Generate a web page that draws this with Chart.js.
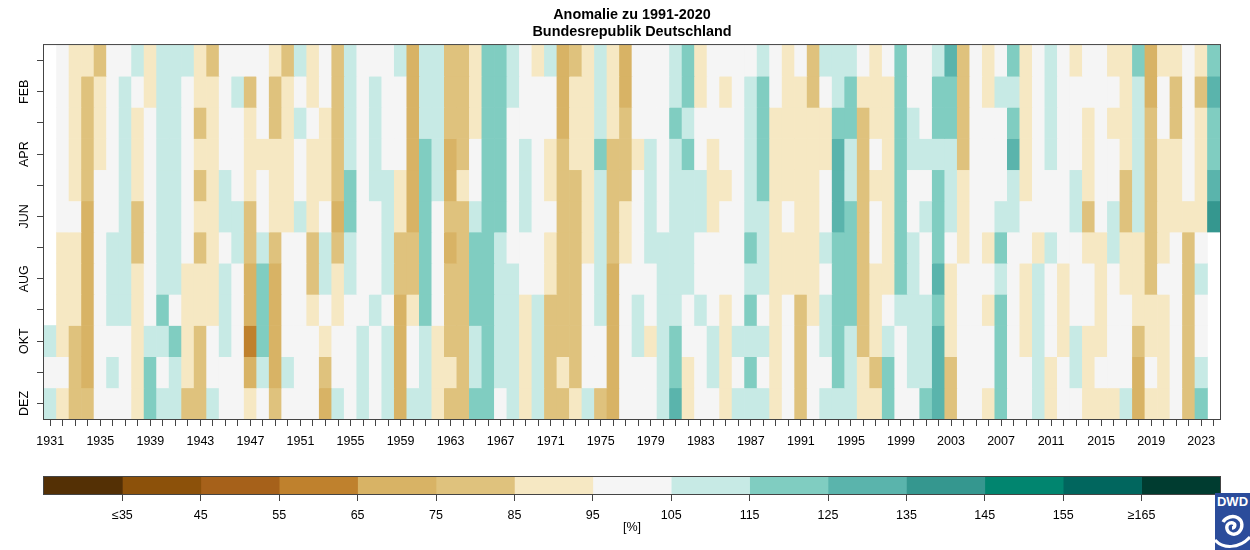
<!DOCTYPE html>
<html>
<head>
<meta charset="utf-8">
<title>Anomalie zu 1991-2020</title>
<script src="https://cdn.jsdelivr.net/npm/chart.js@4"></script>
<style>
  html, body { margin: 0; padding: 0; background: #fff; }
  #page { position: relative; width: 1250px; height: 550px; overflow: hidden; }
  canvas { position: absolute; left: 0; }
  #heat { top: 0; }
  #bar { top: 460px; }
  #logo { position: absolute; left: 1215px; top: 493px; }
</style>
</head>
<body>
<div id="page">
  <canvas id="heat" width="1250" height="460"></canvas>
  <canvas id="bar" width="1250" height="75"></canvas>
  <svg id="logo" width="35" height="57" viewBox="0 0 35 57">
    <rect width="35" height="57" fill="#2b4c9b"/>
    <text x="17.5" y="13" text-anchor="middle" font-family="Liberation Sans" font-weight="bold" font-size="13" fill="#fff">DWD</text>
    <path d="M17 35 C20 35 21 31 18 30 C14 29 11 32 12 36 C13 41 20 43 24 39 C28 35 28 28 23 25 C18 22 11 24 8 29" fill="none" stroke="#fff" stroke-width="3.4"/>
    <path d="M0 47 C8 56 24 56 35 44" fill="none" stroke="#fff" stroke-width="3"/>
  </svg>
</div>
<script>
Chart.defaults.font.family = '"Liberation Sans", Arial, sans-serif';
Chart.defaults.color = '#000';
Chart.defaults.animation = false;

var titleLines = ['Anomalie zu 1991-2020', 'Bundesrepublik Deutschland'];
var monthLabels = ['JAN', 'FEB', 'MRZ', 'APR', 'MAI', 'JUN', 'JUL', 'AUG', 'SEP', 'OKT', 'NOV', 'DEZ'];
var firstYear = 1931;

// class centre in percent, one row per year, Jan..Dez, null = no data yet
var anomaly = [
  [null,null,null,null,null,null,null,null,null,110,100,110],
  [100,100,100,100,100,100,90,90,90,90,100,90],
  [90,90,90,90,90,100,90,90,90,80,80,80],
  [90,80,80,80,80,70,70,70,70,70,70,80],
  [80,90,90,90,100,100,100,100,100,100,100,100],
  [100,100,100,100,100,100,110,110,110,100,110,100],
  [100,110,110,110,110,110,110,110,110,100,100,100],
  [110,100,90,90,90,80,80,90,90,90,90,90],
  [90,90,100,100,100,100,100,100,100,110,120,120],
  [110,110,110,110,110,110,110,110,120,110,100,110],
  [110,110,110,110,110,110,110,110,100,120,110,110],
  [110,100,100,100,100,100,100,90,90,90,90,80],
  [90,90,80,90,80,90,80,90,90,80,80,80],
  [80,90,90,90,90,90,90,90,90,100,100,110],
  [100,100,100,100,110,110,100,110,110,110,100,100],
  [100,110,100,100,100,110,110,100,100,100,100,100],
  [100,80,90,90,90,80,80,70,70,60,70,90],
  [100,100,100,90,100,100,110,120,120,120,110,100],
  [90,80,80,90,90,90,80,70,70,70,70,80],
  [80,90,90,90,90,90,100,100,100,100,110,100],
  [110,100,110,100,100,110,100,100,100,100,100,100],
  [90,90,100,90,90,90,80,80,90,100,100,100],
  [100,100,90,90,90,100,110,110,100,90,80,70],
  [80,80,80,80,80,70,80,90,90,100,100,110],
  [110,110,110,110,120,120,110,110,100,100,100,100],
  [100,100,100,100,100,100,100,100,100,110,110,110],
  [100,110,110,110,110,100,100,100,110,100,100,100],
  [100,100,100,100,110,110,110,110,100,110,110,110],
  [110,100,100,100,90,90,80,80,70,70,70,70],
  [70,70,70,70,70,70,80,80,90,100,100,110],
  [110,110,110,120,120,120,120,120,120,110,110,110],
  [110,110,110,110,110,100,100,100,100,90,90,90],
  [80,80,80,70,70,80,70,80,80,80,90,80],
  [80,80,80,80,90,80,80,80,80,80,80,80],
  [90,90,90,100,100,110,120,120,120,110,110,120],
  [120,120,120,120,120,120,120,120,120,120,120,120],
  [120,120,120,120,120,120,110,110,110,110,110,100],
  [110,110,100,100,100,100,100,110,110,110,110,110],
  [100,100,100,110,110,110,100,100,90,90,90,90],
  [90,100,100,100,100,100,100,100,110,110,110,110],
  [110,100,100,90,90,100,90,90,80,80,80,80],
  [70,70,70,80,80,80,80,80,80,80,90,80],
  [80,90,90,90,80,80,80,80,80,80,80,90],
  [90,90,90,90,90,90,90,100,100,100,100,110],
  [110,110,110,120,110,110,110,110,110,100,100,80],
  [90,90,90,80,80,80,80,70,70,70,70,70],
  [70,70,80,80,80,90,90,100,100,100,100,100],
  [100,100,100,90,100,100,100,100,110,110,100,100],
  [100,100,100,110,110,110,110,100,100,90,100,100],
  [100,100,100,100,100,100,110,110,110,110,110,110],
  [110,110,120,110,110,110,110,110,110,120,120,130],
  [120,120,110,120,110,110,110,110,100,100,90,90],
  [90,90,100,100,110,110,100,100,110,100,100,100],
  [100,100,100,90,90,90,100,100,100,110,110,100],
  [100,90,100,100,90,100,100,100,90,90,90,90],
  [100,100,100,100,100,100,100,100,100,110,100,110],
  [100,110,110,110,110,110,120,110,120,110,120,110],
  [110,120,120,120,120,110,110,110,100,110,100,110],
  [100,100,90,90,90,90,90,90,90,90,90,90],
  [90,90,90,90,90,100,90,90,100,100,100,100],
  [100,90,90,90,90,90,90,90,80,80,80,80],
  [80,80,90,90,90,90,90,90,90,100,100,100],
  [110,100,90,90,100,100,110,100,110,110,100,110],
  [110,110,120,130,130,130,120,120,120,120,120,110],
  [110,120,120,110,110,120,120,120,120,110,110,110],
  [100,90,80,80,80,80,80,80,80,80,90,90],
  [90,90,90,100,90,100,100,90,90,90,80,90],
  [100,90,90,90,90,90,90,90,100,110,120,120],
  [120,120,120,120,120,120,120,120,110,100,100,100],
  [100,100,110,110,100,100,110,110,110,110,110,100],
  [100,100,100,110,100,110,100,100,110,110,110,120],
  [110,120,120,110,120,120,120,130,120,130,130,130],
  [130,120,120,110,110,110,100,90,90,90,80,80],
  [80,80,80,80,90,90,90,100,100,100,100,100],
  [100,100,100,100,100,100,100,100,100,100,100,100],
  [90,90,100,100,100,100,90,100,90,100,100,90],
  [100,110,100,100,100,110,120,110,120,120,120,120],
  [120,110,120,130,110,110,100,100,100,100,100,100],
  [90,90,90,90,90,100,100,90,90,90,100,100],
  [100,100,100,100,100,100,90,110,110,110,110,110],
  [110,110,110,110,100,100,110,100,100,100,90,90],
  [100,100,100,100,100,100,100,90,90,90,100,100],
  [90,100,100,100,110,110,100,100,100,110,110,100],
  [100,100,90,90,90,80,90,100,100,90,90,90],
  [100,100,100,100,100,100,90,90,90,90,100,90],
  [90,100,90,100,100,110,110,100,100,100,100,90],
  [90,90,90,90,80,80,90,90,100,100,100,110],
  [120,110,110,110,110,110,90,90,90,80,70,70],
  [70,70,80,80,80,80,80,80,90,90,100,90],
  [90,100,100,90,90,90,90,100,90,90,90,90],
  [90,80,80,90,90,90,100,100,100,100,100,100],
  [100,100,100,100,100,90,80,80,80,80,80,80],
  [90,80,90,90,90,90,100,110,100,100,110,120],
  [120,130,120,120,130,140,null,null,null,null,null,null]
];

var legendBreaks = [35, 45, 55, 65, 75, 85, 95, 105, 115, 125, 135, 145, 155, 165];
var legendColors = ['#543005', '#8c510a', '#a6611a', '#bf812d', '#d8b365', '#dfc27d', '#f6e8c3', '#f5f5f5',
  '#c7eae5', '#80cdc1', '#5ab4ac', '#35978f', '#01856f', '#01665e', '#003c30'];

var years = anomaly.map(function (row, i) { return String(firstYear + i); });

function colorFor(v) {
  var i = 0;
  while (i < legendBreaks.length && v >= legendBreaks[i]) i++;
  return legendColors[i];
}

// R style box round the plot
var boxPlugin = {
  id: 'box',
  afterDatasetsDraw: function (chart) {
    var a = chart.chartArea, ctx = chart.ctx;
    ctx.save();
    ctx.strokeStyle = '#444';
    ctx.lineWidth = 1;
    ctx.strokeRect(a.left - 0.5, a.top - 0.5, a.right - a.left + 1, a.bottom - a.top + 1);
    ctx.restore();
  }
};

var heatSets = monthLabels.map(function (m, mi) {
  return {
    label: m,
    data: anomaly.map(function (row) { return row[mi] === null ? null : [mi, mi + 1]; }),
    backgroundColor: anomaly.map(function (row) { return row[mi] === null ? 'rgba(0,0,0,0)' : colorFor(row[mi]); }),
    borderWidth: 0,
    inflateAmount: 0.33,
    grouped: false,
    barPercentage: 1,
    categoryPercentage: 1
  };
});

new Chart(document.getElementById('heat'), {
  type: 'bar',
  data: { labels: years, datasets: heatSets },
  plugins: [boxPlugin],
  options: {
    responsive: false,
    layout: { padding: { left: 0, right: 30, top: 0, bottom: 0 } },
    plugins: {
      legend: { display: false },
      tooltip: { enabled: false },
      title: {
        display: true,
        fullSize: false,
        text: titleLines,
        color: '#000',
        font: { size: 14.4, weight: 'bold' },
        padding: { top: 6, bottom: 4.5 }
      }
    },
    scales: {
      x: {
        offset: true,
        border: { display: false },
        grid: { offset: false, drawOnChartArea: false, color: '#444', tickLength: 7 },
        ticks: {
          autoSkip: false,
          maxRotation: 0,
          minRotation: 0,
          padding: 8,
          font: { size: 12.5 },
          callback: function (v, i) { return i % 4 === 0 ? years[i] : ''; }
        },
        afterFit: function (s) { s.height = 41; }
      },
      y: {
        reverse: true,
        min: 0,
        max: 12,
        border: { display: false },
        grid: { drawOnChartArea: false, color: '#444', tickLength: 7 },
        afterBuildTicks: function (s) {
          s.ticks = monthLabels.map(function (m, i) { return { value: i + 0.5 }; });
        },
        ticks: {
          autoSkip: false,
          minRotation: 90,
          maxRotation: 90,
          crossAlign: 'center',
          padding: -1,
          font: { size: 12.5 },
          callback: function (v) {
            var i = Math.floor(v);
            return i % 2 === 1 ? monthLabels[i] : '';
          }
        },
        afterFit: function (s) { s.width = 44; }
      }
    }
  }
});

var legendSets = legendColors.map(function (c, i) {
  var lo = i === 0 ? 25 : legendBreaks[i - 1];
  var hi = i === legendBreaks.length ? 175 : legendBreaks[i];
  return {
    data: [[lo, hi]],
    backgroundColor: c,
    borderWidth: 0,
    inflateAmount: 0.33,
    grouped: false,
    barPercentage: 1,
    categoryPercentage: 1
  };
});

new Chart(document.getElementById('bar'), {
  type: 'bar',
  data: { labels: ['%'], datasets: legendSets },
  plugins: [boxPlugin],
  options: {
    indexAxis: 'y',
    responsive: false,
    layout: { padding: { left: 44, right: 30, top: 17, bottom: 0 } },
    plugins: { legend: { display: false }, tooltip: { enabled: false } },
    scales: {
      y: { display: false },
      x: {
        min: 25,
        max: 175,
        border: { display: false },
        grid: { drawOnChartArea: false, color: '#444', tickLength: 7 },
        afterBuildTicks: function (s) {
          s.ticks = legendBreaks.map(function (b) { return { value: b }; });
        },
        ticks: {
          autoSkip: false,
          maxRotation: 0,
          padding: 7,
          font: { size: 12.5 },
          callback: function (v) {
            if (v === legendBreaks[0]) return '≤' + v;
            if (v === legendBreaks[legendBreaks.length - 1]) return '≥' + v;
            return String(v);
          }
        },
        title: { display: true, text: '[%]', font: { size: 12.5 }, padding: { top: 0, bottom: 0 } },
        afterFit: function (s) { s.height = 41; }
      }
    }
  }
});
</script>
</body>
</html>
